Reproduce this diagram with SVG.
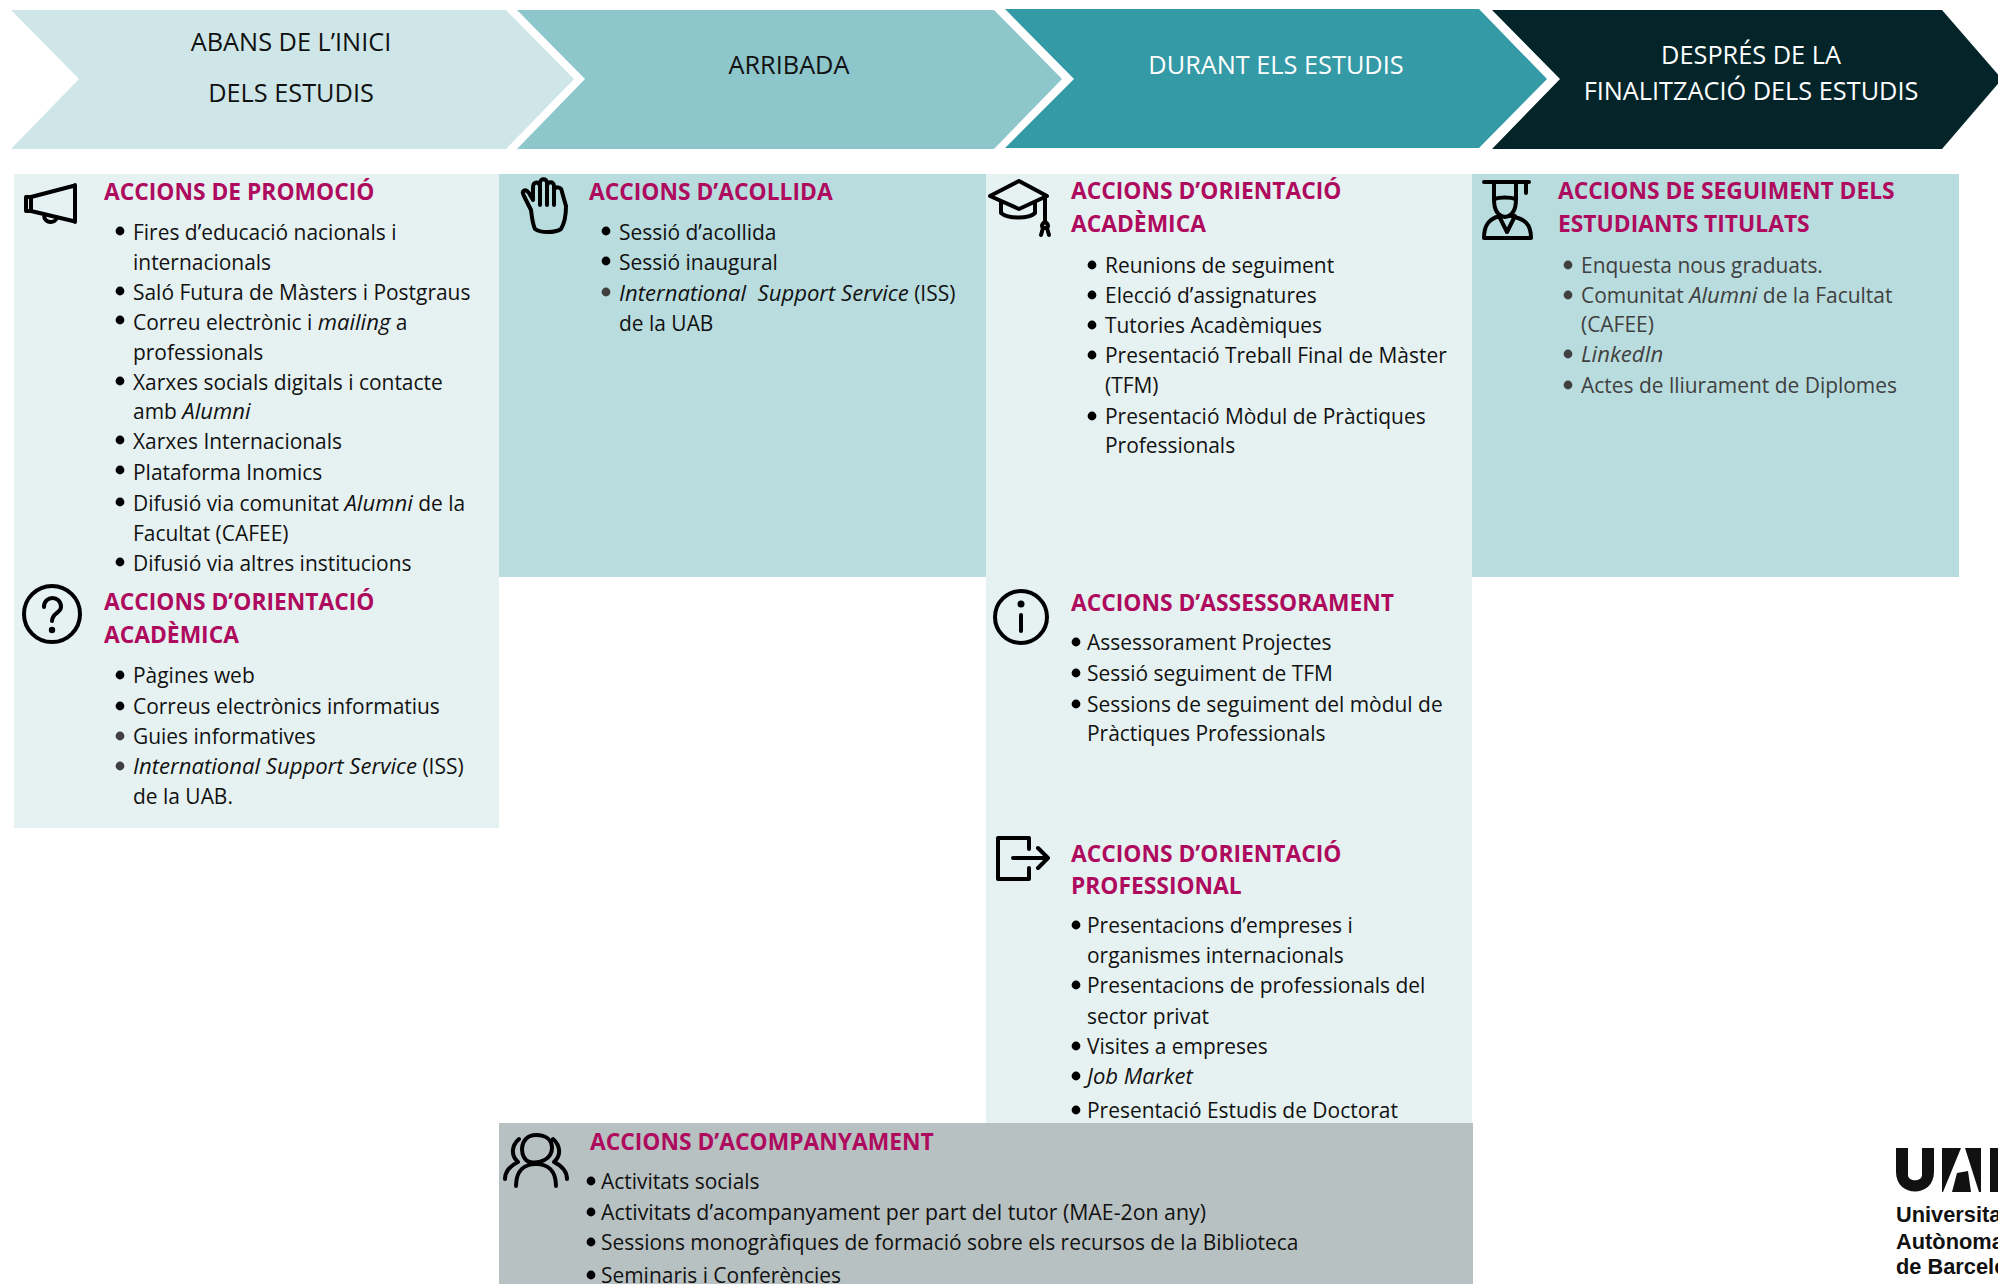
<svg xmlns="http://www.w3.org/2000/svg" width="1998" height="1284" viewBox="0 0 1998 1284">
<style>
text{font-family:"Open Sans","Noto Sans","Liberation Sans",sans-serif;transform:translateY(1px)}
.b{font-size:20.95px;fill:#111}
.it{font-style:italic;font-size:22.1px}
.g{fill:#404040}
.t{font-size:22.8px;font-weight:700;fill:#ae0b5e}
.h{font-size:25.3px;text-anchor:middle;fill:#111}
.w{fill:#fff}
.i{fill:none;stroke:#000;stroke-width:4;stroke-linecap:round;stroke-linejoin:round}
.d{fill:#000}
.dg{fill:#404040}
.lg{font-family:"Liberation Sans",Arial,sans-serif;font-weight:700;font-size:21.8px;fill:#111}
</style>
<rect width="1998" height="1284" fill="#fff"/>
<g id="phases">
<g id="phase-1"><polygon points="11,10 506,10 574,79 506,149 11,149 79,79" fill="#cfe6e8"/><text class="h" x="291" y="50">ABANS DE L’INICI</text><text class="h" x="291" y="101">DELS ESTUDIS</text></g>
<g id="phase-2"><polygon points="517,10 994,10 1062,79 994,149 517,149 585,79" fill="#8dc6cb"/><text class="h" x="789" y="73">ARRIBADA</text></g>
<g id="phase-3"><polygon points="1005,9 1479,9 1547,79 1479,148 1005,148 1074,79" fill="#339aa6"/><text class="h w" x="1276" y="73">DURANT ELS ESTUDIS</text></g>
<g id="phase-4"><polygon points="1492,10 1942,10 2002,79 1942,149 1492,149 1560,79" fill="#03252a"/><text class="h w" x="1751" y="63">DESPRÉS DE LA</text><text class="h w" x="1751" y="99">FINALITZACIÓ DELS ESTUDIS</text></g>
</g>
<g id="panels">
<rect x="14" y="174" width="485" height="654" fill="#e6f2f2"/>
<rect x="499" y="174" width="487" height="403" fill="#b9dcde"/>
<rect x="986" y="174" width="486" height="949" fill="#e6f2f2"/>
<rect x="1472" y="174" width="487" height="403" fill="#b9dcde"/>
<rect x="499" y="1123" width="974" height="161" fill="#b8c1c2"/>
</g>
<g id="connectors"></g>
<g id="promocio">
<g class="i"><path d="M75 185V222M73 186L31 197V211L73 221M26 197H31V211H26ZM44 215C44 224 56 224 57 217"/></g>
<text class="t" x="104" y="199">ACCIONS DE PROMOCIÓ</text>
<circle class="d" cx="120" cy="231" r="4.4"/><text class="b" x="133" y="239">Fires d’educació nacionals i</text><text class="b" x="133" y="269">internacionals</text>
<circle class="d" cx="120" cy="291" r="4.4"/><text class="b" x="133" y="299">Saló Futura de Màsters i Postgraus</text>
<circle class="d" cx="120" cy="320" r="4.4"/><text class="b" x="133" y="329">Correu electrònic i <tspan class="it">mailing</tspan> a</text><text class="b" x="133" y="359">professionals</text>
<circle class="d" cx="120" cy="381" r="4.4"/><text class="b" x="133" y="389">Xarxes socials digitals i contacte</text><text class="b" x="133" y="418">amb <tspan class="it">Alumni</tspan></text>
<circle class="d" cx="120" cy="440" r="4.4"/><text class="b" x="133" y="448">Xarxes Internacionals</text>
<circle class="d" cx="120" cy="470" r="4.4"/><text class="b" x="133" y="479">Plataforma Inomics</text>
<circle class="d" cx="120" cy="502" r="4.4"/><text class="b" x="133" y="510">Difusió via comunitat <tspan class="it">Alumni</tspan> de la</text><text class="b" x="133" y="540">Facultat (CAFEE)</text>
<circle class="d" cx="120" cy="562" r="4.4"/><text class="b" x="133" y="570">Difusió via altres institucions</text>
</g>
<g id="orientacio-previa">
<circle class="i" cx="52" cy="614" r="28"/><path class="i" d="M44 607C44 595 61 595 61 607C61 613 52 613 52 621"/><circle class="d" cx="52" cy="630" r="3.2"/>
<text class="t" x="104" y="609">ACCIONS D’ORIENTACIÓ</text><text class="t" x="104" y="642">ACADÈMICA</text>
<circle class="d" cx="120" cy="675" r="4.4"/><text class="b" x="133" y="682">Pàgines web</text>
<circle class="d" cx="120" cy="706" r="4.4"/><text class="b" x="133" y="713">Correus electrònics informatius</text>
<circle class="dg" cx="120" cy="736" r="4.4"/><text class="b" x="133" y="743">Guies informatives</text>
<circle class="dg" cx="120" cy="766" r="4.4"/><text class="b" x="133" y="773"><tspan class="it">International Support Service</tspan> (ISS)</text><text class="b" x="133" y="803">de la UAB.</text>
</g>
<g id="acollida">
<path class="i" d="M531 210L524 196C521 191 525 188 529 193L533 200V187C533 181 540 181 540 187V183C540 178 547 178 547 183V186C547 181 554 181 554 186V191C554 186 562 186 562 192L566 206C566 218 564 224 561 229C555 233 540 233 535 229C532 222 532 216 531 210ZM540 186V205M547 184V205M554 187V205"/>
<text class="t" x="589" y="199">ACCIONS D’ACOLLIDA</text>
<circle class="d" cx="606" cy="231" r="4.4"/><text class="b" x="619" y="239">Sessió d’acollida</text>
<circle class="d" cx="606" cy="261" r="4.4"/><text class="b" x="619" y="269">Sessió inaugural</text>
<circle class="dg" cx="606" cy="292" r="4.4"/><text class="b" x="619" y="300" xml:space="preserve"><tspan class="it">International  Support Service</tspan> (ISS)</text><text class="b" x="619" y="330">de la UAB</text>
</g>
<g id="orientacio-academica">
<path class="i" d="M1019 181L990 196L1019 209L1047 196ZM1001 202V213C1008 219 1029 219 1035 213V202M1045 198V222"/>
<path class="i" d="M1045 222C1041 224 1041 228 1045 228C1049 228 1049 224 1045 222M1043 228L1041 235M1047 228L1049 235"/>
<text class="t" x="1071" y="198">ACCIONS D’ORIENTACIÓ</text><text class="t" x="1071" y="231">ACADÈMICA</text>
<circle class="d" cx="1092" cy="265" r="4.4"/><text class="b" x="1105" y="272">Reunions de seguiment</text>
<circle class="d" cx="1092" cy="295" r="4.4"/><text class="b" x="1105" y="302">Elecció d’assignatures</text>
<circle class="d" cx="1092" cy="325" r="4.4"/><text class="b" x="1105" y="332">Tutories Acadèmiques</text>
<circle class="d" cx="1092" cy="355" r="4.4"/><text class="b" x="1105" y="362">Presentació Treball Final de Màster</text><text class="b" x="1105" y="392">(TFM)</text>
<circle class="d" cx="1092" cy="416" r="4.4"/><text class="b" x="1105" y="423">Presentació Mòdul de Pràctiques</text><text class="b" x="1105" y="452">Professionals</text>
</g>
<g id="seguiment">
<path class="i" d="M1484 182H1529M1526 182V193M1494 182V199C1500 197 1510 197 1516 199V182M1494 199C1494 209 1497 216 1505 217C1513 216 1516 209 1516 199M1499 216C1490 219 1484 224 1484 238H1531C1531 224 1525 219 1511 216M1499 216L1507 232L1515 216"/>
<text class="t" x="1558" y="198">ACCIONS DE SEGUIMENT DELS</text><text class="t" x="1558" y="231">ESTUDIANTS TITULATS</text>
<circle class="dg" cx="1568" cy="265" r="4.4"/><text class="b g" x="1581" y="272">Enquesta nous graduats.</text>
<circle class="dg" cx="1568" cy="295" r="4.4"/><text class="b g" x="1581" y="302">Comunitat <tspan class="it">Alumni</tspan> de la Facultat</text><text class="b g" x="1581" y="331">(CAFEE)</text>
<circle class="dg" cx="1568" cy="354" r="4.4"/><text class="b g it" x="1581" y="361">LinkedIn</text>
<circle class="dg" cx="1568" cy="385" r="4.4"/><text class="b g" x="1581" y="392">Actes de lliurament de Diplomes</text>
</g>
<g id="assessorament">
<circle class="i" cx="1021" cy="617" r="26"/><path class="i" d="M1021 615V631" stroke-width="5"/><circle class="d" cx="1021" cy="604" r="3.5"/>
<text class="t" x="1071" y="610">ACCIONS D’ASSESSORAMENT</text>
<circle class="d" cx="1076" cy="642" r="4.4"/><text class="b" x="1087" y="649">Assessorament Projectes</text>
<circle class="d" cx="1076" cy="673" r="4.4"/><text class="b" x="1087" y="680">Sessió seguiment de TFM</text>
<circle class="d" cx="1076" cy="704" r="4.4"/><text class="b" x="1087" y="711">Sessions de seguiment del mòdul de</text><text class="b" x="1087" y="740">Pràctiques Professionals</text>
</g>
<g id="orientacio-professional">
<path class="i" d="M1029 849V838H998V879H1029V868M1013 858H1047M1038 848L1048 858L1038 868"/>
<text class="t" x="1071" y="861">ACCIONS D’ORIENTACIÓ</text><text class="t" x="1071" y="893">PROFESSIONAL</text>
<circle class="d" cx="1076" cy="925" r="4.4"/><text class="b" x="1087" y="932">Presentacions d’empreses i</text><text class="b" x="1087" y="962">organismes internacionals</text>
<circle class="d" cx="1076" cy="985" r="4.4"/><text class="b" x="1087" y="992">Presentacions de professionals del</text><text class="b" x="1087" y="1023">sector privat</text>
<circle class="d" cx="1076" cy="1046" r="4.4"/><text class="b" x="1087" y="1053">Visites a empreses</text>
<circle class="d" cx="1076" cy="1076" r="4.4"/><text class="b it" x="1087" y="1083">Job Market</text>
<circle class="d" cx="1076" cy="1110" r="4.4"/><text class="b" x="1087" y="1117">Presentació Estudis de Doctorat</text>
</g>
<g id="acompanyament">
<path class="i" d="M536 1135C518 1135 519 1160 530 1162C538 1164 552 1160 552 1148C552 1140 546 1135 536 1135ZM516 1186C516 1170 525 1164 536 1164C547 1164 556 1170 556 1186M519 1139C511 1146 511 1156 518 1162C510 1166 505 1172 505 1179M553 1139C561 1146 561 1156 554 1162C562 1166 567 1172 567 1179"/>
<text class="t" x="590" y="1149">ACCIONS D’ACOMPANYAMENT</text>
<circle class="d" cx="591" cy="1181" r="4.4"/><text class="b" x="601" y="1188">Activitats socials</text>
<circle class="d" cx="591" cy="1212" r="4.4"/><text class="b" x="601" y="1219" style="font-size:21.3px">Activitats d’acompanyament per part del tutor (MAE-2on any)</text>
<circle class="d" cx="591" cy="1242" r="4.4"/><text class="b" x="601" y="1249">Sessions monogràfiques de formació sobre els recursos de la Biblioteca</text>
<circle class="d" cx="591" cy="1275" r="4.4"/><text class="b" x="601" y="1282">Seminaris i Conferències</text>
</g>
<g id="logo">
<path d="M1896 1148H1908V1175C1908 1182 1922 1182 1922 1175V1148H1934V1172C1934 1198 1896 1198 1896 1172Z" fill="#111"/>
<path d="M1942 1148H1961L1943 1192H1942ZM1965 1148H1981V1192H1979ZM1957 1173L1968 1171L1971 1192H1952Z" fill="#111"/>
<rect x="1990" y="1148" width="8" height="44" fill="#111"/>
<text class="lg" x="1896" y="1221">Universitat</text>
<text class="lg" x="1896" y="1248">Autònoma</text>
<text class="lg" x="1896" y="1273">de Barcelona</text>
</g>
</svg>
